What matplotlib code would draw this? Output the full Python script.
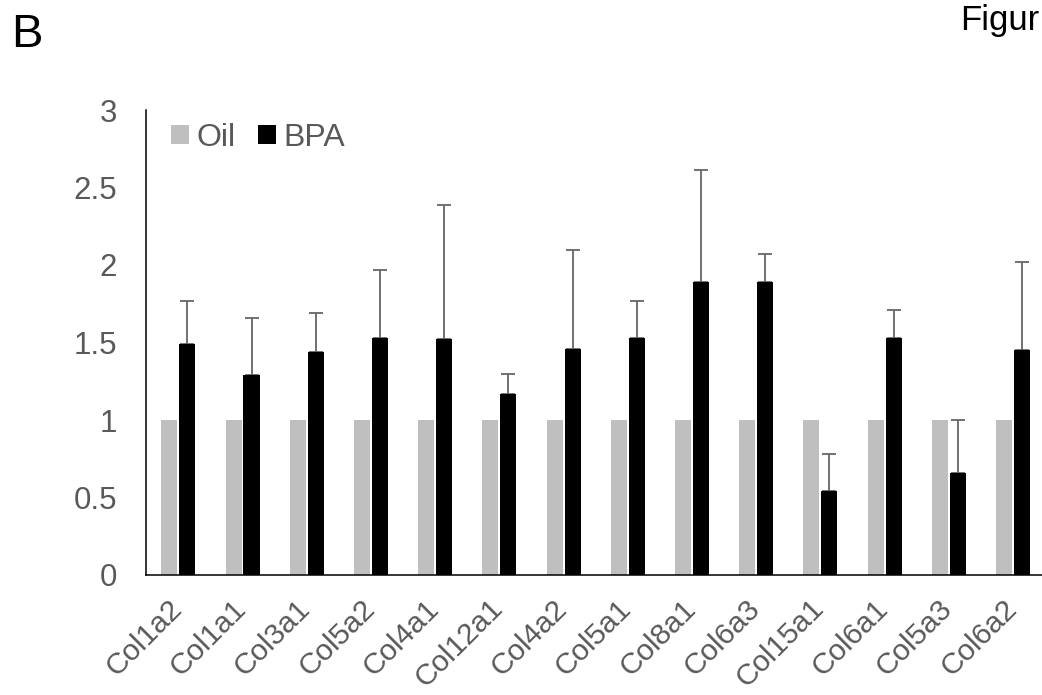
import matplotlib.pyplot as plt
import matplotlib.transforms as mtransforms
import numpy as np

plt.rcParams['font.family'] = ['Liberation Sans', 'DejaVu Sans']

genes = ["Col1a2", "Col1a1", "Col3a1", "Col5a2", "Col4a1", "Col12a1", "Col4a2",
         "Col5a1", "Col8a1", "Col6a3", "Col15a1", "Col6a1", "Col5a3", "Col6a2"]
oil = [1, 1, 1, 1, 1, 1, 1, 1, 1, 1, 1, 1, 1, 1]
bpa = [1.49, 1.29, 1.44, 1.53, 1.52, 1.17, 1.46, 1.53, 1.89, 1.89, 0.54, 1.53, 0.66, 1.45]
bpa_err = [0.28, 0.37, 0.25, 0.44, 0.87, 0.13, 0.64, 0.24, 0.72, 0.18, 0.24, 0.18, 0.34, 0.57]

W, H = 1042, 695
fig = plt.figure(figsize=(W / 100, H / 100), dpi=100)
ax = fig.add_axes([146.2 / W, (H - 575) / H, 899 / W, 465 / H])

x = np.arange(len(genes))
ax.bar(x - 0.14, oil, width=0.25, color="#bfbfbf", label="Oil", zorder=2)
ax.bar(x + 0.14, bpa, width=0.25, color="black", label="BPA", zorder=2)
ax.errorbar(x + 0.14, bpa, yerr=[np.zeros(len(bpa)), bpa_err], fmt="none",
            ecolor="#666666", elinewidth=1.3, capsize=4.7, capthick=1.3, zorder=1)

ax.set_xlim(-0.5, len(genes) - 0.5)
ax.set_ylim(0, 3)
ax.set_yticks([0, 0.5, 1, 1.5, 2, 2.5, 3])
ax.set_yticklabels(["0", "0.5", "1", "1.5", "2", "2.5", "3"])
ax.tick_params(axis="y", length=0, pad=21, labelsize=22.5, labelcolor="#595959")
ax.set_xticks(x)
ax.set_xticklabels(genes, rotation=45, ha="right", va="baseline", rotation_mode="anchor")
ax.tick_params(axis="x", length=0, pad=25, labelsize=21.5, labelcolor="#595959")
# nudge labels a little to the right, like the original
shift = mtransforms.ScaledTranslation(0.05, 0, fig.dpi_scale_trans)
for lab in ax.get_xticklabels():
    lab.set_transform(lab.get_transform() + shift)

for s in ["top", "right"]:
    ax.spines[s].set_visible(False)
ax.spines["left"].set_linewidth(1.1)
ax.spines["bottom"].set_linewidth(1.1)

ax.legend(loc="upper left", bbox_to_anchor=(0.0045, 1.017), ncol=2, frameon=False,
          fontsize=23, labelcolor="#595959", handlelength=0.55, handleheight=0.55,
          handletextpad=0.25, columnspacing=0.7, borderaxespad=0.25)

fig.text(11 / W, 1 - 47 / H, "B", fontsize=34, color="black")
fig.text(960 / W, 1 - 30 / H, "Figur", fontsize=25, color="black")

fig.savefig("out.png", dpi=100)
